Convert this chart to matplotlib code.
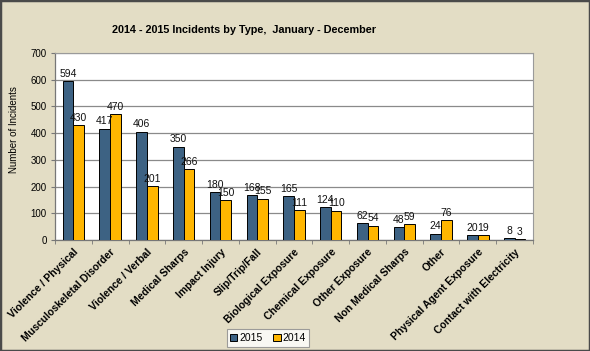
import matplotlib
matplotlib.use("Agg")
import matplotlib.pyplot as plt
import numpy as np
from matplotlib.patches import Rectangle

plt.rcParams['font.family'] = ['Liberation Sans', 'DejaVu Sans']

categories = ["Violence / Physical", "Musculoskeletal Disorder", "Violence / Verbal",
              "Medical Sharps", "Impact Injury", "Slip/Trip/Fall", "Biological Exposure",
              "Chemical Exposure", "Other Exposure", "Non Medical Sharps", "Other",
              "Physical Agent Exposure", "Contact with Electricity"]
v2015 = [594, 417, 406, 350, 180, 168, 165, 124, 62, 48, 24, 20, 8]
v2014 = [430, 470, 201, 266, 150, 155, 111, 110, 54, 59, 76, 19, 3]
yticks = [0, 100, 200, 300, 400, 500, 600, 700]

bg = "#E3DDC5"
c2015 = "#3D6283"
c2014 = "#FFB600"

fig = plt.figure(figsize=(5.9, 3.51), dpi=100, facecolor=bg)
fig.patches.append(Rectangle((0, 0), 1, 1, transform=fig.transFigure, fill=False,
                             edgecolor="#4a4a4a", linewidth=2.5))
ax = fig.add_axes([55/590, 1-240/351, 478/590, 187/351])
ax.set_facecolor("white")

x = np.arange(len(categories))
w = 0.29
b1 = ax.bar(x - w/2, v2015, w, color=c2015, edgecolor="black", linewidth=0.7, label="2015", zorder=3)
b2 = ax.bar(x + w/2, v2014, w, color=c2014, edgecolor="black", linewidth=0.7, label="2014", zorder=3)
for xi, v in zip(x, v2015):
    ax.text(xi - w/2, v + 8, str(v), ha="center", va="bottom", fontsize=7.5, color="#111111")
for xi, v in zip(x, v2014):
    ax.text(xi + w/2, v + 8, str(v), ha="center", va="bottom", fontsize=7.5, color="#111111")

ax.set_xlim(-0.5, len(categories) - 0.5)
ax.set_ylim(0, 700)
ax.set_yticks(yticks)
ax.set_yticklabels([str(t) for t in yticks], fontsize=7)
ax.yaxis.grid(True, color="#8a8a8a", linewidth=0.9, zorder=0)
ax.set_xticks(np.arange(len(categories) + 1) - 0.5, minor=True)
ax.set_xticks(x)
ax.set_xticklabels(categories, rotation=45, ha="right", rotation_mode="anchor",
                   fontsize=7.5, fontweight="bold")
ax.tick_params(axis="x", which="major", length=0, pad=5)
ax.tick_params(axis="x", which="minor", length=3, color="#777777")
ax.tick_params(axis="y", length=3, color="#777777", pad=3)
for s in ["top", "right"]:
    ax.spines[s].set_color("#9a9a9a")
    ax.spines[s].set_linewidth(0.8)
for s in ["left", "bottom"]:
    ax.spines[s].set_color("#777777")
    ax.spines[s].set_linewidth(0.9)

ax.set_ylabel("Number of Incidents", fontsize=7)
ax.yaxis.set_label_coords((19 - 55) / 478, (240 - 130) / 187)
fig.text(244/590, 1 - 30/351, "2014 - 2015 Incidents by Type,  January - December",
         ha="center", va="center", fontsize=7.8, fontweight="bold")

leg = fig.legend(handles=[b1, b2], labels=["2015", "2014"], loc="center",
                 bbox_to_anchor=(268/590, 1 - 338/351), ncol=2, fontsize=7.5,
                 frameon=True, fancybox=False, edgecolor="#888888", handlelength=0.7,
                 handleheight=0.7, handletextpad=0.2, columnspacing=1.0, borderpad=0.35)
leg.get_frame().set_linewidth(0.8)

fig.savefig("out.png", dpi=100, facecolor=bg)
